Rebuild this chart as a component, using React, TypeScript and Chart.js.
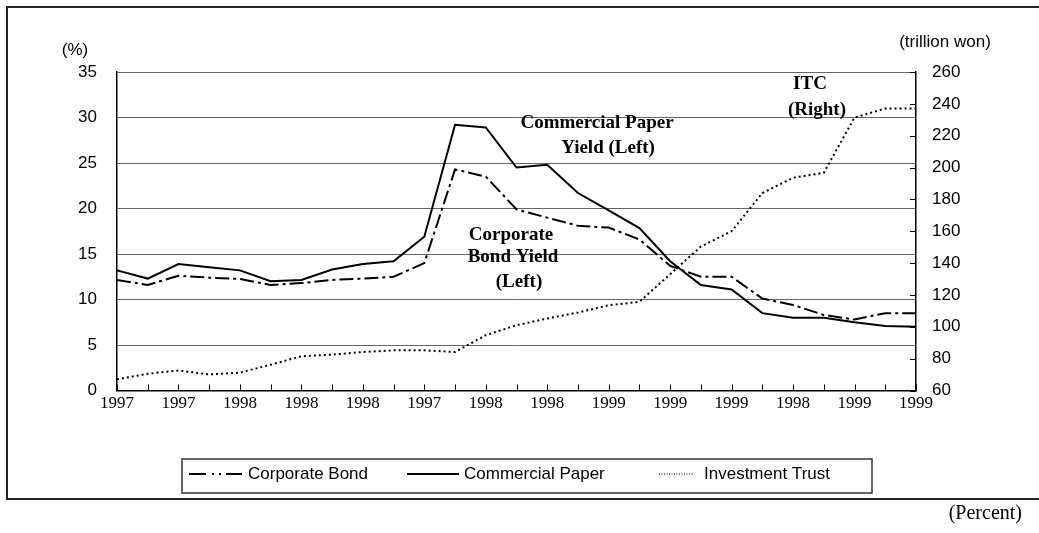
import React, { useEffect, useRef } from "react";
import { Chart, registerables } from "chart.js";

Chart.register(...registerables);

const categories: string[] = [
  "1997", "", "1997", "", "1998", "", "1998", "", "1998", "", "1997", "", "1998", "",
  "1998", "", "1999", "", "1999", "", "1999", "", "1998", "", "1999", "", "1999",
];

const corporateBond: number[] = [
  12.15, 11.6, 12.6, 12.4, 12.26, 11.6, 11.8, 12.15, 12.3, 12.5, 14.0, 24.3, 23.5, 19.9,
  19.0, 18.1, 17.9, 16.6, 13.7, 12.5, 12.5, 10.1, 9.4, 8.3, 7.8, 8.5, 8.5,
];

const commercialPaper: number[] = [
  13.2, 12.3, 13.9, 13.55, 13.2, 12.0, 12.15, 13.3, 13.9, 14.2, 16.9, 29.2, 28.9, 24.5,
  24.8, 21.7, 19.8, 17.85, 14.2, 11.6, 11.1, 8.5, 8.0, 8.0, 7.5, 7.1, 7.0,
];

const investmentTrust: number[] = [
  67, 70.5, 72.6, 70.1, 71.2, 76.2, 81.5, 82.5, 84.2, 85.2, 85.2, 84.2, 94.7, 101,
  105.2, 109, 113.5, 115.7, 133, 150.4, 160, 184, 193.6, 196.7, 231.4, 237.1, 237.1,
];

const leftTicks = { min: 0, max: 35, step: 5 };
const rightTicks = { min: 60, max: 260, step: 20 };

const legendItems: string[] = ["Corporate Bond", "Commercial Paper", "Investment Trust"];
const annotations: { text: string; x: number; y: number }[] = [
  { text: "Commercial Paper", x: 597, y: 123 },
  { text: "Yield (Left)", x: 608, y: 148 },
  { text: "Corporate", x: 511, y: 235 },
  { text: "Bond Yield", x: 513, y: 257 },
  { text: "(Left)", x: 519, y: 282 },
  { text: "ITC", x: 810, y: 84 },
  { text: "(Right)", x: 817, y: 110 },
];

const SANS = '"Liberation Sans", Arial, sans-serif';
const SERIF = '"Liberation Serif", "Times New Roman", serif';

const decor = {
  id: "decor",
  beforeDraw(chart: any) {
    const ctx = chart.ctx;
    ctx.save();
    ctx.fillStyle = "#fff";
    ctx.fillRect(0, 0, chart.width, chart.height);
    ctx.restore();
  },
  afterDraw(chart: any) {
    const ctx = chart.ctx;
    const { right, bottom } = chart.chartArea;
    ctx.save();
    ctx.strokeStyle = "#000";
    ctx.lineWidth = 1;
    // inward x ticks
    const xs = chart.scales.x;
    for (let i = 0; i < categories.length; i++) {
      const x = Math.round(xs.getPixelForValue(i)) + 0.5;
      ctx.beginPath();
      ctx.moveTo(x, bottom);
      ctx.lineTo(x, bottom - 6);
      ctx.stroke();
    }
    // inward right ticks
    const y1 = chart.scales.y1;
    y1.ticks.forEach((t: any) => {
      const y = Math.round(y1.getPixelForValue(t.value)) + 0.5;
      ctx.beginPath();
      ctx.moveTo(right - 6, y);
      ctx.lineTo(right, y);
      ctx.stroke();
    });

    // axis titles
    ctx.fillStyle = "#000";
    ctx.font = `17px ${SANS}`;
    ctx.textAlign = "center";
    ctx.textBaseline = "middle";
    ctx.fillText("(%)", 75, 50);
    ctx.fillText("(trillion won)", 945, 42);

    // annotations
    ctx.font = `bold 19px ${SERIF}`;
    annotations.forEach((a) => ctx.fillText(a.text, a.x, a.y));

    // legend box
    ctx.strokeStyle = "#333";
    ctx.lineWidth = 1.5;
    ctx.strokeRect(182, 459, 690, 34);
    const ly = 474;
    ctx.strokeStyle = "#000";
    ctx.lineWidth = 2;
    // dash-dot-dot sample
    const segs = [[189, 206], [212, 214], [219, 221], [226, 242]];
    segs.forEach(([a, b]) => {
      ctx.beginPath();
      ctx.moveTo(a, ly);
      ctx.lineTo(b, ly);
      ctx.stroke();
    });
    // solid sample
    ctx.beginPath();
    ctx.moveTo(407, ly);
    ctx.lineTo(459, ly);
    ctx.stroke();
    // dotted sample
    ctx.lineWidth = 1;
    ctx.setLineDash([1, 1.5]);
    ctx.beginPath();
    ctx.moveTo(659, ly);
    ctx.lineTo(693, ly);
    ctx.stroke();
    ctx.setLineDash([]);

    ctx.font = `17px ${SANS}`;
    ctx.textAlign = "left";
    ctx.fillText(legendItems[0], 248, ly);
    ctx.fillText(legendItems[1], 464, ly);
    ctx.fillText(legendItems[2], 704, ly);

    // outer frame
    ctx.strokeStyle = "#222";
    ctx.lineWidth = 2;
    ctx.beginPath();
    ctx.moveTo(1039, 7);
    ctx.lineTo(7, 7);
    ctx.lineTo(7, 499);
    ctx.lineTo(1039, 499);
    ctx.stroke();

    // (Percent)
    ctx.font = `20px ${SERIF}`;
    ctx.textAlign = "right";
    ctx.fillText("(Percent)", 1022, 514);
    ctx.restore();
  },
};

export default function App() {
  const ref = useRef<HTMLCanvasElement | null>(null);
  useEffect(() => {
    if (!ref.current) return;
    const chart = new Chart(ref.current, {
      type: "line",
      data: {
        labels: categories,
        datasets: [
          {
            label: legendItems[0],
            data: corporateBond,
            yAxisID: "y",
            borderColor: "#000",
            borderWidth: 2,
            borderDash: [14, 4, 3, 4],
            pointRadius: 0,
            tension: 0,
            fill: false,
          },
          {
            label: legendItems[1],
            data: commercialPaper,
            yAxisID: "y",
            borderColor: "#000",
            borderWidth: 2,
            pointRadius: 0,
            tension: 0,
            fill: false,
          },
          {
            label: legendItems[2],
            data: investmentTrust,
            yAxisID: "y1",
            borderColor: "#000",
            borderWidth: 2,
            borderDash: [2, 3],
            borderCapStyle: "butt",
            pointRadius: 0,
            tension: 0,
            fill: false,
          },
        ],
      },
      options: {
        responsive: false,
        animation: false,
        layout: { padding: { top: 72, left: 0, right: 0, bottom: 0 } },
        plugins: { legend: { display: false }, tooltip: { enabled: false } },
        scales: {
          x: {
            grid: { display: false, drawTicks: false },
            border: { display: true, color: "#000", width: 1.5 },
            ticks: {
              autoSkip: false,
              maxRotation: 0,
              minRotation: 0,
              padding: 3,
              color: "#000",
              font: { family: SERIF, size: 17 },
            },
            afterFit: (s: any) => {
              s.height = 142.5;
            },
          },
          y: {
            position: "left",
            min: leftTicks.min,
            max: leftTicks.max,
            ticks: { stepSize: leftTicks.step, padding: 20, color: "#000", font: { family: SANS, size: 17 } },
            grid: { color: "#666", lineWidth: 1, drawTicks: false },
            border: { display: true, color: "#000", width: 1.5 },
            afterFit: (s: any) => {
              s.width = 117;
            },
          },
          y1: {
            position: "right",
            min: rightTicks.min,
            max: rightTicks.max,
            ticks: { stepSize: rightTicks.step, padding: 16, color: "#000", font: { family: SANS, size: 17 } },
            grid: { display: false, drawTicks: false },
            border: { display: true, color: "#000", width: 1.5 },
            afterFit: (s: any) => {
              s.width = 123;
            },
          },
        },
      },
      plugins: [decor],
    } as any);
    return () => chart.destroy();
  }, []);
  return (
    <div style={{ position: "absolute", left: 0, top: 0, width: 1039, height: 533 }}>
      <canvas ref={ref} width={1039} height={533} style={{ width: 1039, height: 533, display: "block" }} />
    </div>
  );
}
